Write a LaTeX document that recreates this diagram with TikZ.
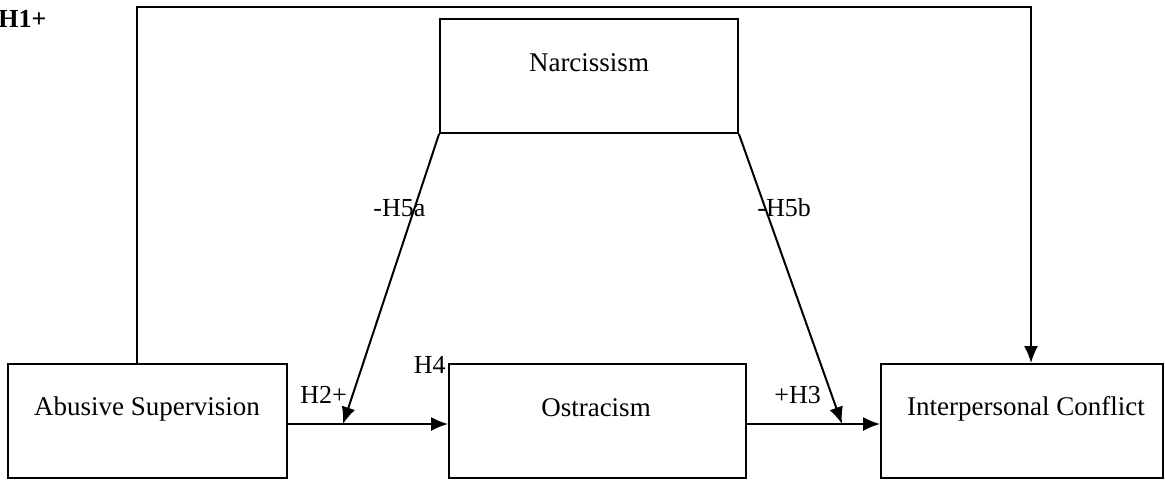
\documentclass[tikz,border=0pt]{standalone}
\usepackage{fontspec}
\setmainfont{Liberation Serif}
\usetikzlibrary{arrows.meta}
\tikzset{
  box/.style={draw, line width=0.9pt, minimum height=57pt, inner sep=0pt},
  txt/.style={anchor=base, font=\fontsize{13.5pt}{16pt}\selectfont, inner sep=0pt},
  hyp/.style={font=\fontsize{13pt}{16pt}\selectfont, inner sep=0pt},
  conn/.style={line width=1pt},
  arr/.style={conn, -{Latex[length=8.5pt,width=7pt]}}
}
\begin{document}
\begin{tikzpicture}[x=0.5pt,y=-0.5pt]
  \useasboundingbox (0,0) rectangle (1165,479);
  \clip (0,0) rectangle (1165,479);
  % boxes
  \node[box, minimum width=149pt, minimum height=57pt] (narc) at (589,76) {};
  \node[box, minimum width=139.5pt] (abuse) at (147.5,421) {};
  \node[box, minimum width=148.5pt] (ostr) at (597.5,421) {};
  \node[box, minimum width=141pt] (confl) at (1022,421) {};
  \node[txt] (narctxt) at (589,71) {Narcissism};
  \node[txt] (abusetxt) at (147,415) {Abusive Supervision};
  \node[txt] (ostrtxt) at (596,416) {Ostracism};
  \node[txt] (confltxt) at (1026,415) {Interpersonal Conflict};
  % path points
  \coordinate (lvl) at (0,424);
  \coordinate (m1) at (343,424);
  \coordinate (m2) at (842,424);
  \coordinate (top1) at (137,7);
  \coordinate (top2) at (1031,7);
  % connectors
  \draw[arr] (abuse.east |- lvl) -- (ostr.west |- lvl);
  \draw[arr] (ostr.east |- lvl) -- (confl.west |- lvl);
  \draw[arr] (narc.south west) -- (m1);
  \draw[arr] (narc.south east) -- (m2);
  \draw[arr] (abuse.north -| top1) -- (top1) -- (top2) -- (confl.north -| top2);
  % hypothesis labels
  \node[hyp, anchor=base west] (h1) at (-2,27) {\bfseries H1+};
  \node[hyp, anchor=base west] (h2) at (300,403) {H2+};
  \node[hyp, anchor=base west] (h3) at (774,403) {+H3};
  \node[hyp, anchor=base east] (h4) at (446,373) {H4};
  \node[hyp, anchor=base west] (h5a) at (373,216) {-H5a};
  \node[hyp, anchor=base west] (h5b) at (757,216) {-H5b};
\end{tikzpicture}
\end{document}
